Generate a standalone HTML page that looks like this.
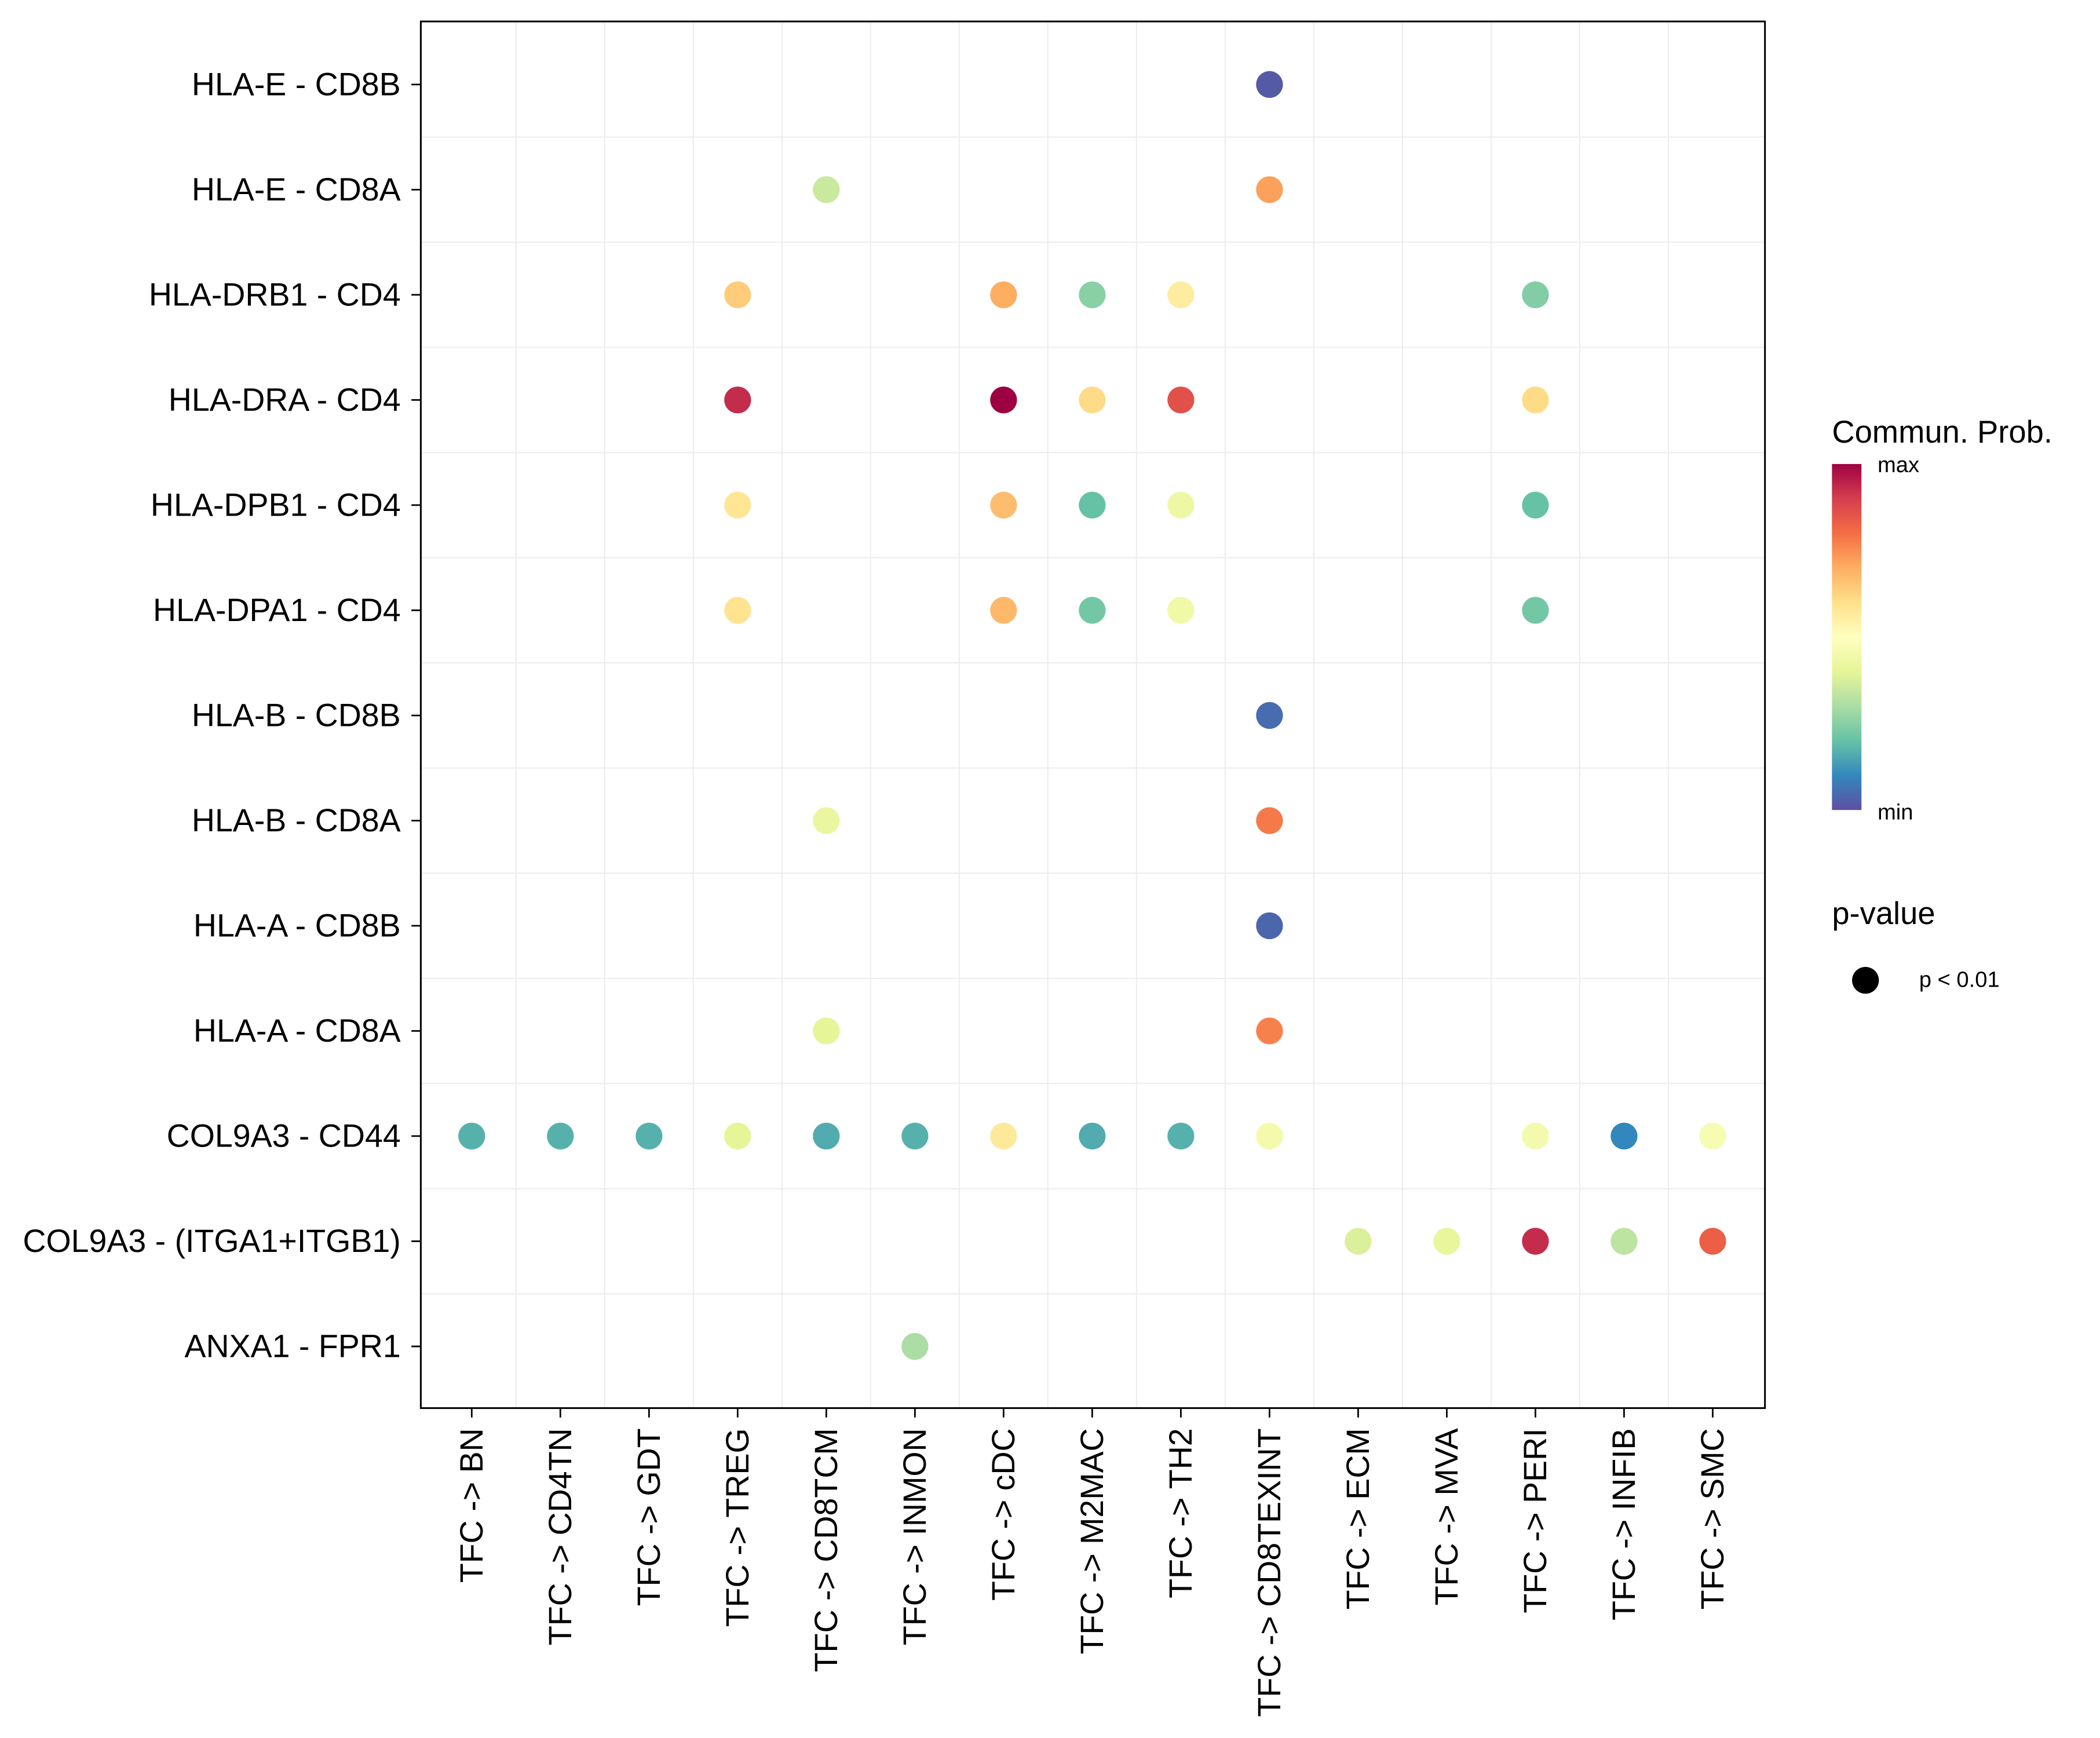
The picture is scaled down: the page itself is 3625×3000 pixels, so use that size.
<!DOCTYPE html>
<html><head><meta charset="utf-8"><style>html,body{margin:0;padding:0;background:#fff}svg{display:block}text{font-family:"Liberation Sans",sans-serif;fill:#000}</style></head>
<body>
<svg id="chart" width="3625" height="3000" viewBox="0 0 1567 1296" preserveAspectRatio="none" xmlns="http://www.w3.org/2000/svg">
<defs><linearGradient id="spec" x1="0" y1="0" x2="0" y2="1">
<stop offset="0" stop-color="#9E0142"/><stop offset="0.1" stop-color="#D53E4F"/><stop offset="0.2" stop-color="#F46D43"/><stop offset="0.3" stop-color="#FDAE61"/><stop offset="0.4" stop-color="#FEE08B"/><stop offset="0.5" stop-color="#FFFFBF"/><stop offset="0.6" stop-color="#E6F598"/><stop offset="0.7" stop-color="#ABDDA4"/><stop offset="0.8" stop-color="#66C2A5"/><stop offset="0.9" stop-color="#3288BD"/><stop offset="1" stop-color="#5E4FA2"/></linearGradient></defs>
<rect x="0" y="0" width="1567" height="1296" fill="#fff"/>
<g id="grid"></g>
<g id="dots"></g>
<rect x="314" y="16" width="1003" height="1034" fill="none" stroke="#000" stroke-width="1.3"/>
<g id="yaxis"></g>
<g id="xaxis"></g>
<g>
<text x="1367" y="330" font-size="23.5">Commun. Prob.</text>
<rect x="1367" y="346" width="22" height="258" fill="url(#spec)"/>
<text x="1401" y="352" font-size="16.5">max</text>
<text x="1401" y="611" font-size="16.5">min</text>
</g>
<g>
<text x="1367" y="689" font-size="23.5">p-value</text>
<circle cx="1392" cy="731" r="10" fill="#000"/>
<text x="1432" y="736" font-size="16.5">p &lt; 0.01</text>
</g>
</svg>
<script>
const targets = ["BN","CD4TN","GDT","TREG","CD8TCM","INMON","cDC","M2MAC","TH2","CD8TEXINT","ECM","MVA","PERI","INFIB","SMC"];
const pairs = ["HLA-E - CD8B","HLA-E - CD8A","HLA-DRB1 - CD4","HLA-DRA - CD4","HLA-DPB1 - CD4","HLA-DPA1 - CD4","HLA-B - CD8B","HLA-B - CD8A","HLA-A - CD8B","HLA-A - CD8A","COL9A3 - CD44","COL9A3 - (ITGA1+ITGB1)","ANXA1 - FPR1"];
const pointPair = [0,1,1,2,2,2,2,2,3,3,3,3,3,4,4,4,4,4,5,5,5,5,5,6,7,7,8,9,9,10,10,10,10,10,10,10,10,10,10,10,10,10,11,11,11,11,11,12];
const pointTarget = [9,4,9,3,6,7,8,12,3,6,7,8,12,3,6,7,8,12,3,6,7,8,12,9,4,9,9,4,9,0,1,2,3,4,5,6,7,8,9,12,13,14,10,11,12,13,14,5];
const pointProb = [0.02,0.35,0.72,0.64,0.7,0.25,0.56,0.24,0.93,1.0,0.61,0.86,0.61,0.58,0.67,0.2,0.43,0.2,0.59,0.68,0.22,0.44,0.22,0.05,0.42,0.78,0.04,0.4,0.77,0.17,0.17,0.17,0.4,0.16,0.17,0.57,0.16,0.17,0.45,0.45,0.1,0.47,0.38,0.41,0.93,0.33,0.83,0.3];

const NS="http://www.w3.org/2000/svg";
const xScale = i => 352 + i*(1278-352)/(targets.length-1);
const yScale = j => 63 + j*(1004-63)/(pairs.length-1);
const stops = ["#5E4FA2","#3288BD","#66C2A5","#ABDDA4","#E6F598","#FFFFBF","#FEE08B","#FDAE61","#F46D43","#D53E4F","#9E0142"];
function hex(h){return [1,3,5].map(k=>parseInt(h.substr(k,2),16));}
function color(v){v=Math.max(0,Math.min(1,v));const p=v*10,i=Math.min(9,Math.floor(p)),f=p-i;const a=hex(stops[i]),b=hex(stops[i+1]);return "rgb("+a.map((c,k)=>Math.round(c+(b[k]-c)*f)).join(",")+")";}
function mk(tag,attrs,parent){const e=document.createElementNS(NS,tag);for(const k in attrs)e.setAttribute(k,attrs[k]);parent.appendChild(e);return e;}
const grid=document.getElementById('grid'),dots=document.getElementById('dots'),ya=document.getElementById('yaxis'),xa=document.getElementById('xaxis');
const dx=(1278-352)/(targets.length-1), dy=(1004-63)/(pairs.length-1);
for(let i=0;i<targets.length;i++){
  if(i<targets.length-1){
  const g=mk('line',{x1:xScale(i)+dx/2,x2:xScale(i)+dx/2,y1:16,y2:1050,stroke:'#EBEBEB','stroke-width':0.8},grid);
  
  
  }
  const t=mk('line',{x1:xScale(i),x2:xScale(i),y1:1050,y2:1057,stroke:'#000','stroke-width':1.2},xa);
  
  
  const x=xScale(i)+8;
  const l=mk('text',{x:x,y:1065,'font-size':24,'text-anchor':'end',transform:'rotate(-90 '+x+' 1065)'},xa);
  
  
  l.textContent='TFC -> '+targets[i];
}
for(let j=0;j<pairs.length;j++){
  if(j<pairs.length-1){
  const g=mk('line',{x1:314,x2:1317,y1:yScale(j)+dy/2,y2:yScale(j)+dy/2,stroke:'#EBEBEB','stroke-width':0.8},grid);
  
  
  }
  const t=mk('line',{x1:307,x2:314,y1:yScale(j),y2:yScale(j),stroke:'#000','stroke-width':1.2},ya);
  
  
  const l=mk('text',{x:299,y:yScale(j)+8,'font-size':24,'text-anchor':'end'},ya);
  
  
  l.textContent=pairs[j];
}
for(let k=0;k<pointProb.length;k++){
  const c=mk('circle',{cx:xScale(pointTarget[k]),cy:yScale(pointPair[k]),r:10,fill:color(pointProb[k])},dots);
  
  
}
</script>
</body></html>
